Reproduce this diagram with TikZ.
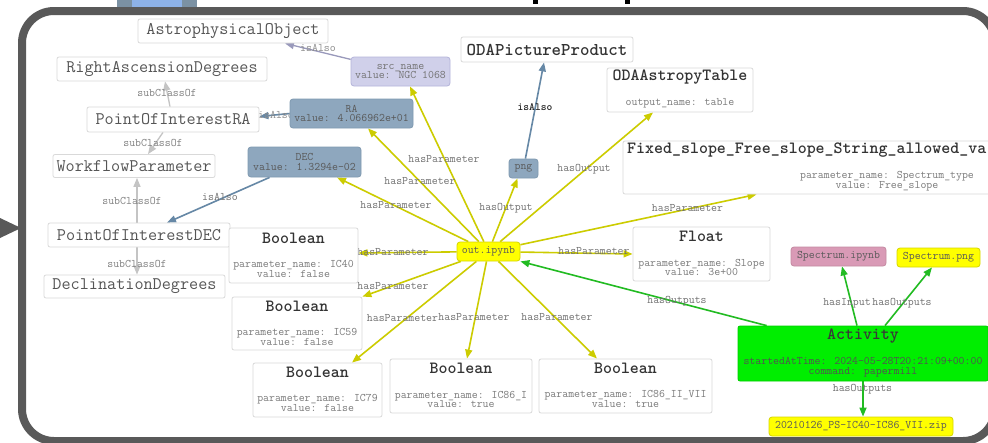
\documentclass[tikz,border=0pt]{standalone}
\usepackage{fontspec}
\usetikzlibrary{arrows.meta}
\definecolor{framegray}{HTML}{595959}
\definecolor{boxline}{HTML}{D9D9D9}
\definecolor{clstext}{HTML}{555555}
\definecolor{ttltext}{HTML}{333333}
\definecolor{smltext}{HTML}{7A7A7A}
\definecolor{lbltext}{HTML}{707070}
\definecolor{yedge}{HTML}{CCCC00}
\definecolor{bedge}{HTML}{6688A6}
\definecolor{gedge}{HTML}{22BB22}
\definecolor{cedge}{HTML}{C4C4C4}
\definecolor{ledge}{HTML}{9999BB}
\definecolor{steelfill}{HTML}{8EA7BE}
\definecolor{steelline}{HTML}{7F99B0}
\definecolor{lavfill}{HTML}{D0D0EA}
\definecolor{lavline}{HTML}{B4B4DA}
\definecolor{yfill}{HTML}{FFFF00}
\definecolor{yline}{HTML}{D6D600}
\definecolor{rosefill}{HTML}{D99AB6}
\definecolor{roseline}{HTML}{C48AA2}
\definecolor{actgreen}{HTML}{00EE00}
\definecolor{actline}{HTML}{00CC00}
\definecolor{topblue}{HTML}{8DB2E8}
\definecolor{topgray}{HTML}{7B91A3}
\pgfdeclarelayer{back}
\pgfdeclarelayer{edges}
\pgfsetlayers{back,edges,main}
\newfontfamily\heavyfont{Latin Modern Mono}[BoldFont={* Light}, BoldFeatures={FakeBold=2.5}]
\begin{document}
\begin{tikzpicture}[x=1pt,y=-1pt,
  cls/.style={draw=boxline, fill=white, rounded corners=2pt, line width=0.8pt, inner sep=0pt, text=clstext, font=\ttfamily\fontsize{17.7}{18}\selectfont},
  pbox/.style={draw=boxline, fill=white, rounded corners=2pt, line width=0.8pt, inner sep=0pt},
  ttl/.style={inner sep=0pt, text=ttltext, font=\ttfamily\bfseries\fontsize{17.1}{17}\selectfont\addfontfeatures{FakeBold=3}},
  sml/.style={inner sep=0pt, text=smltext, align=center, font=\ttfamily\fontsize{11.5}{9.8}\selectfont},
  vbox/.style={draw=steelline, fill=steelfill, rounded corners=3pt, line width=0.8pt, inner sep=0pt, text=black!65, align=center, font=\ttfamily\fontsize{11.5}{9.8}\selectfont},
  lbox/.style={vbox, draw=lavline, fill=lavfill, text=black!55},
  ybox/.style={draw=yline, fill=yfill, rounded corners=3pt, line width=0.8pt, inner sep=0pt, text=black!65, font=\ttfamily\fontsize{11.5}{11}\selectfont},
  rbox/.style={ybox, draw=roseline, fill=rosefill},
  lbl/.style={inner sep=0pt, text=lbltext, font=\ttfamily\fontsize{11.5}{11}\selectfont},
  tip/.style={-{Triangle[length=9pt,width=7pt]}},
  yarr/.style={tip, draw=yedge, fill=yedge, line width=1.6pt},
  barr/.style={tip, draw=bedge, fill=bedge, line width=1.6pt},
  garr/.style={tip, draw=gedge, fill=gedge, line width=1.6pt},
  carr/.style={tip, draw=cedge, fill=cedge, line width=1.3pt},
  larr/.style={tip, draw=ledge, fill=ledge, line width=1.3pt}
]
\useasboundingbox (0,0) rectangle (988,442);
\clip (0,0) rectangle (988,442);

% ---------- nodes ----------
\node[cls, minimum width=190pt, minimum height=24pt] (ao) at (233,31) {AstrophysicalObject};
\node[cls, minimum width=210pt, minimum height=24pt] (rad) at (162,69) {RightAscensionDegrees};
\node[cls, minimum width=172pt, minimum height=25pt] (poira) at (173,119.5) {PointOfInterestRA};
\node[cls, minimum width=162pt, minimum height=23pt] (wp) at (134,166) {WorkflowParameter};
\node[cls, minimum width=182pt, minimum height=24pt] (poidec) at (139,235) {PointOfInterestDEC};
\node[cls, minimum width=181pt, minimum height=23pt] (dd) at (134.5,286.5) {DeclinationDegrees};

\node[lbox, minimum width=99pt, minimum height=29pt] (src) at (400.5,71.5) {src\_name\\value: NGC 1068};
\node[vbox, minimum width=123pt, minimum height=29pt] (ra) at (351.5,113.5) {RA\\value: 4.066962e+01};
\node[vbox, minimum width=113pt, minimum height=30pt] (dec) at (304.5,162) {DEC\\value: 1.3294e-02};
\node[vbox, minimum width=29pt, minimum height=19pt] (png) at (523.5,168.5) {png};

\node[pbox, minimum width=172pt, minimum height=25pt, text=ttltext, font=\ttfamily\bfseries\fontsize{18}{18}\selectfont\addfontfeatures{FakeBold=3}] (opp) at (547,49.5) {ODAPictureProduct};

\node[pbox, minimum width=146pt, minimum height=44pt] (oat) at (680,90) {};
\node[ttl] (oat-t) at (680,77) {ODAAstropyTable};
\node[sml] (oat-p) at (680,103) {output\_name: table};

\node[pbox, minimum width=527pt, minimum height=53pt] (fixed) at (886.5,167.5) {};
\node[ttl, anchor=west] (fixed-t) at (627,150) {Fixed\_slope\_Free\_slope\_String\_allowed\_va};
\node[sml] (fixed-p) at (887,181.5) {parameter\_name: Spectrum\_type\\value: Free\_slope};

\node[pbox, minimum width=129pt, minimum height=55pt] (b40) at (293.5,255.5) {};
\node[ttl] (b40-t) at (293.5,238) {Boolean};
\node[sml] (b40-p) at (293.5,269) {parameter\_name: IC40\\value: false};

\node[pbox, minimum width=130pt, minimum height=53pt] (b59) at (297,323.5) {};
\node[ttl] (b59-t) at (297,306) {Boolean};
\node[sml] (b59-p) at (297,337) {parameter\_name: IC59\\value: false};

\node[pbox, minimum width=129pt, minimum height=54pt] (b79) at (317.5,390) {};
\node[ttl] (b79-t) at (317.5,372) {Boolean};
\node[sml] (b79-p) at (317.5,403) {parameter\_name: IC79\\value: false};

\node[pbox, minimum width=142pt, minimum height=54pt] (b86) at (461,386) {};
\node[ttl] (b86-t) at (461,368) {Boolean};
\node[sml] (b86-p) at (461,399.5) {parameter\_name: IC86\_I\\value: true};

\node[pbox, minimum width=173pt, minimum height=54pt] (b86b) at (625.5,386) {};
\node[ttl] (b86b-t) at (625.5,368) {Boolean};
\node[sml] (b86b-p) at (625.5,399) {parameter\_name: IC86\_II\_VII\\value: true};

\node[pbox, minimum width=137pt, minimum height=54pt] (flt) at (701.5,254) {};
\node[ttl] (flt-t) at (701.5,236) {Float};
\node[sml] (flt-p) at (701.5,267.5) {parameter\_name: Slope\\value: 3e+00};

\node[pbox, draw=actline, fill=actgreen, minimum width=250pt, minimum height=55pt] (act) at (863,353.5) {};
\node[ttl, text=black!78] (act-t) at (863,336) {Activity};
\node[sml, text=black!68] (act-p) at (863,367) {startedAtTime: 2024-05-28T20:21:09+00:00\\command: papermill};

\node[ybox, minimum width=63pt, minimum height=19pt] (out) at (488.5,251.5) {out.ipynb};
\node[rbox, minimum width=95pt, minimum height=19pt] (si) at (838.5,256.5) {Spectrum.ipynb};
\node[ybox, minimum width=83pt, minimum height=19pt] (sp) at (938.5,257.5) {Spectrum.png};
\node[ybox, minimum width=184pt, minimum height=19pt] (zip) at (861,426.5) {20210126\_PS-IC40-IC86\_VII.zip};

% ---------- background: slide frame ----------
\begin{pgfonlayer}{back}
  \fill[white] (0,0) rectangle (988,442);
  \fill[topgray] (117,-2) rectangle (197,9);
  \fill[topblue] (132,-2) rectangle (182,9);
  \fill[black] (533,-1) rectangle (538,4);
  \fill[black] (625,-1) rectangle (630,4);
  \draw[line width=8pt, draw=framegray, rounded corners=32pt] (22,11) rectangle (995,441);
  \fill[framegray] (0,218) -- (21,228) -- (0,238) -- cycle;
\end{pgfonlayer}

% ---------- edges and labels ----------
\begin{pgfonlayer}{edges}
  \draw[yarr] (out) -- ([xshift=9.5pt]src.south);
  \draw[yarr] (out) -- ([xshift=16.5pt]ra.south);
  \draw[yarr] (out) -- ([xshift=32.5pt]dec.south);
  \draw[yarr] (out) -- ([yshift=2.5pt]b40.east);
  \draw[yarr] (out) -- (b59.north east);
  \draw[yarr] (out) -- ([xshift=34.5pt]b79.north);
  \draw[yarr] (out) -- ([xshift=6pt]b86.north);
  \draw[yarr] (out) -- ([xshift=-28.5pt]b86b.north);
  \draw[yarr] (out) -- (flt.west);
  \draw[yarr] (out) -- ([xshift=134pt]fixed.south west);
  \draw[yarr] (out) -- ([xshift=-27pt]oat.south);
  \draw[yarr] (out) -- ([xshift=-6pt]png.south);

  \draw[barr] (png) -- ([xshift=-3pt]opp.south);
  \draw[barr] (ra.west) -- ([yshift=3pt]poira.east);
  \draw[barr] (dec) -- ([xshift=28pt]poidec.north);
  \draw[larr] (src) -- ([xshift=52pt]ao.south);

  \draw[carr] ([xshift=-3pt]poira.north) -- ([xshift=3pt]rad.south);
  \draw[carr] ([xshift=-10pt]poira.south) -- ([xshift=14pt]wp.north);
  \draw[carr] ([xshift=-2pt]poidec.north) -- ([xshift=3pt]wp.south);
  \draw[carr] ([xshift=-2pt]poidec.south) -- ([xshift=2.5pt]dd.north);

  \draw[garr] ([xshift=29pt]act.north west) -- (out.south east);
  \draw[garr] ([xshift=-6pt]act.north) -- ([xshift=3.5pt]si.south);
  \draw[garr] ([xshift=22pt]act.north) -- ([xshift=-6.5pt]sp.south);
  \draw[garr] (act.south) -- ([xshift=2pt]zip.north);

  \node[lbl, text=black!45] (l-src) at (318,48) {isAlso};
  \node[lbl, text=black!45] (l-ra) at (276,115) {isAlso};
  \node[lbl] (l-dec) at (220,197) {isAlso};
  \node[lbl, text=black!85, font=\ttfamily\bfseries\fontsize{11}{11}\selectfont\addfontfeatures{FakeBold=3}] (l-png) at (535,107) {isAlso};
  \node[lbl, text=black!50] (l-s1) at (167,93) {subClassOf};
  \node[lbl, text=black!50] (l-s2) at (153,143) {subClassOf};
  \node[lbl, text=black!50] (l-s3) at (132,201) {subClassOf};
  \node[lbl, text=black!50] (l-s4) at (137,264) {subClassOf};
  \node[lbl] (l-p1) at (444,159) {hasParameter};
  \node[lbl] (l-p2) at (420,181) {hasParameter};
  \node[lbl] (l-p3) at (396,205) {hasParameter};
  \node[lbl] (l-p4) at (393,252) {hasParameter};
  \node[lbl] (l-p5) at (594,251) {hasParameter};
  \node[lbl] (l-p6) at (393,286) {hasParameter};
  \node[lbl] (l-p7) at (402.5,318) {hasParameter};
  \node[lbl] (l-p8) at (474,317) {hasParameter};
  \node[lbl] (l-p9) at (557,317) {hasParameter};
  \node[lbl] (l-p10) at (687.5,208) {hasParameter};
  \node[lbl] (l-o1) at (506,208) {hasOutput};
  \node[lbl] (l-o2) at (584,169) {hasOutput};
  \node[lbl] (l-o3) at (677,301) {hasOutputs};
  \node[lbl] (l-o4) at (862.5,389) {hasOutputs};
  \node[lbl] (l-i1) at (847,303) {hasInput};
  \node[lbl] (l-o5) at (902,303) {hasOutputs};
\end{pgfonlayer}
\end{tikzpicture}
\end{document}
